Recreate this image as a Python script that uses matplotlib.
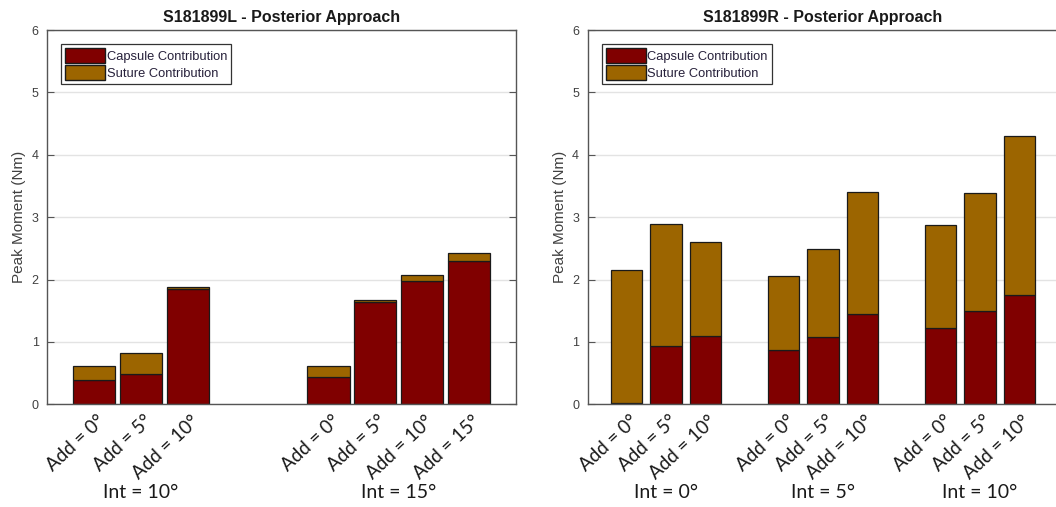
import matplotlib
matplotlib.use("Agg")
import matplotlib.pyplot as plt
import matplotlib.transforms as mtransforms
from matplotlib.patches import Patch

# ---------------- data ----------------
left_title = "S181899L - Posterior Approach"
left_groups = ["Int = 10°", "Int = 15°"]
left_ticklabels = [["Add = 0°", "Add = 5°", "Add = 10°"],
                   ["Add = 0°", "Add = 5°", "Add = 10°", "Add = 15°"]]
left_capsule = [0.39, 0.485, 1.85, 0.44, 1.645, 1.98, 2.30]
left_suture = [0.23, 0.335, 0.03, 0.17, 0.025, 0.10, 0.13]

right_title = "S181899R - Posterior Approach"
right_groups = ["Int = 0°", "Int = 5°", "Int = 10°"]
right_ticklabels = [["Add = 0°", "Add = 5°", "Add = 10°"],
                    ["Add = 0°", "Add = 5°", "Add = 10°"],
                    ["Add = 0°", "Add = 5°", "Add = 10°"]]
right_capsule = [0.02, 0.93, 1.10, 0.875, 1.074, 1.452, 1.228, 1.49, 1.757]
right_suture = [2.14, 1.964, 1.496, 1.185, 1.42, 1.945, 1.645, 1.89, 2.543]

series_names = ["Capsule Contribution", "Suture Contribution"]
ylabel = "Peak Moment (Nm)"
yticks = [0, 1, 2, 3, 4, 5, 6]

CAPSULE = "#800000"
SUTURE = "#9c6500"
EDGE = "#1a1a1a"
AXC = "#555555"
TXT = "#404040"
LABEL_FONT = ["Lato", "DejaVu Sans"]
NUM_FONT = ["Liberation Sans", "DejaVu Sans"]

fig = plt.figure(figsize=(10.56, 5.07), dpi=100)


def positions_for(groups_labels, gap):
    pos, centers = [], []
    x = 1
    for labels in groups_labels:
        grp = []
        for _ in labels:
            grp.append(x)
            x += 1
        pos.extend(grp)
        centers.append((grp[0] + grp[-1]) / 2)
        x += gap
    return pos, centers


def draw(ax, title, groups, ticklabels, capsule, suture, gap, width, xmax,
         right_ticks=True):
    pos, centers = positions_for(ticklabels, gap)
    ax.set_axisbelow(True)
    ax.yaxis.grid(True, color="#e3e3e3", linewidth=1.0)
    ax.bar(pos, capsule, width=width, color=CAPSULE, edgecolor=EDGE,
           linewidth=0.9, label=series_names[0])
    ax.bar(pos, suture, width=width, bottom=capsule, color=SUTURE,
           edgecolor=EDGE, linewidth=0.9, label=series_names[1])
    ax.set_xlim(0, xmax)
    ax.set_ylim(0, 6)
    ax.set_yticks(yticks)
    ax.set_yticklabels([str(t) for t in yticks], family=NUM_FONT,
                       fontsize=9, color=TXT)
    ax.tick_params(axis="y", direction="in", length=5, width=0.8,
                   color=AXC, left=True, right=right_ticks, pad=6)
    ax.set_xticks(pos)
    ax.set_xticklabels([])
    ax.tick_params(axis="x", length=0)
    flat = [l for grp in ticklabels for l in grp]
    base = mtransforms.blended_transform_factory(ax.transData, ax.transAxes)
    off = mtransforms.ScaledTranslation(3 / 100, -8 / 100, fig.dpi_scale_trans)
    for p, lab in zip(pos, flat):
        ax.text(p, 0, lab, transform=base + off, rotation=43,
                rotation_mode="anchor", ha="right", va="top",
                family=LABEL_FONT, fontsize=13.5, color="#1a1a1a",
                clip_on=False)
    for s in ax.spines.values():
        s.set_color(AXC)
        s.set_linewidth(1.0)
    ax.set_title(title, fontweight="bold", family=NUM_FONT, fontsize=11.5,
                 color="#1a1a1a", pad=6)
    ax.set_ylabel(ylabel, family=NUM_FONT, fontsize=11, color=TXT,
                  labelpad=4)
    trans = mtransforms.blended_transform_factory(ax.transData, fig.transFigure)
    for c, g in zip(centers, groups):
        ax.text(c, 1 - 492 / 507, g, transform=trans, ha="center",
                va="center", family=LABEL_FONT, fontsize=14,
                color="#1a1a1a", clip_on=False)
    leg = ax.legend(handles=[Patch(facecolor=CAPSULE, edgecolor=EDGE),
                             Patch(facecolor=SUTURE, edgecolor=EDGE)],
                    labels=series_names, loc="upper left",
                    bbox_to_anchor=(0.03, 0.962), frameon=True,
                    fancybox=False, framealpha=1, edgecolor="#333333",
                    borderpad=0.3, labelspacing=0.2, handlelength=3.1,
                    handleheight=1.35, handletextpad=0.15, borderaxespad=0,
                    prop={"family": NUM_FONT, "size": 9.3})
    leg.get_frame().set_linewidth(0.9)
    for t in leg.get_texts():
        t.set_color("#26203a")


ax1 = fig.add_axes([47 / 1056, 1 - 404.3 / 507, (516 - 47) / 1056,
                    (404.3 - 30) / 507])
draw(ax1, left_title, left_groups, left_ticklabels, left_capsule,
     left_suture, gap=2, width=0.9, xmax=10)

ax2 = fig.add_axes([587.5 / 1056, 1 - 404.3 / 507, (1058.5 - 587.5) / 1056,
                    (404.3 - 30) / 507])
draw(ax2, right_title, right_groups, right_ticklabels, right_capsule,
     right_suture, gap=1, width=0.8, xmax=12, right_ticks=False)

fig.savefig("out.png", dpi=100, facecolor="white")
